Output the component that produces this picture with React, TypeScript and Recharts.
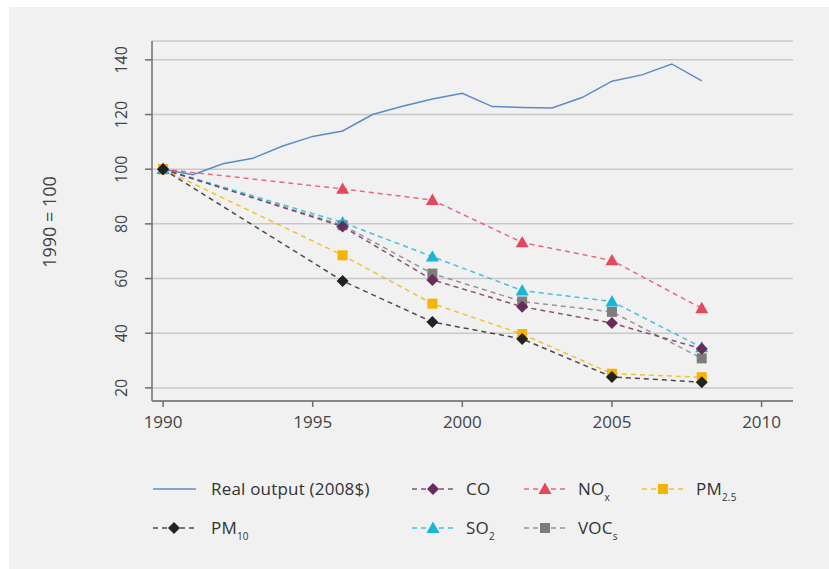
import React from "react";
import {
  LineChart,
  Line,
  XAxis,
  YAxis,
  CartesianGrid,
} from "recharts";

// annual real output index
const outputYears = [
  1990, 1991, 1992, 1993, 1994, 1995, 1996, 1997, 1998, 1999, 2000, 2001,
  2002, 2003, 2004, 2005, 2006, 2007, 2008,
];
const realOutput = [
  100, 98, 102, 104, 108.5, 112, 114, 120, 123, 125.7, 127.8, 122.9, 122.6,
  122.4, 126.2, 132.2, 134.5, 138.5, 132.3,
];

// emissions, measured every three years
const emissionYears = [1990, 1996, 1999, 2002, 2005, 2008];
const co = [100, 79, 59.5, 49.7, 43.7, 34.3];
const nox = [100, 92.8, 88.7, 73.2, 66.6, 49.1];
const pm25 = [100, 68.5, 50.8, 39.7, 25.2, 23.9];
const pm10 = [100, 59.1, 44.1, 37.9, 24, 22.1];
const so2 = [100, 80.5, 68, 55.6, 51.6, 34.8];
const vocs = [100, 79.5, 61.8, 51.6, 47.8, 30.8];

const xTicks = [1990, 1995, 2000, 2005, 2010];
const yTicks = [20, 40, 60, 80, 100, 120, 140];

const FONT = "'Open Sans', sans-serif";

const COLORS = {
  output: "#5b8cc4",
  co: "#6a2a5a",
  nox: "#e5475f",
  pm25: "#f4b400",
  pm10: "#222222",
  so2: "#19b6d8",
  vocs: "#7d7d7d",
};

const rows = outputYears.map((year, i) => {
  const row: Record<string, number | undefined> = { year, output: realOutput[i] };
  return row;
});
emissionYears.forEach((year, i) => {
  const row = rows.find((r) => r.year === year)!;
  row.co = co[i];
  row.nox = nox[i];
  row.pm25 = pm25[i];
  row.pm10 = pm10[i];
  row.so2 = so2[i];
  row.vocs = vocs[i];
});

type Shape = "diamond" | "triangle" | "square";

const Marker = ({ shape, cx, cy, color }: { shape: Shape; cx: number; cy: number; color: string }) => {
  if (shape === "diamond") {
    const r = 6;
    return (
      <polygon
        points={`${cx},${cy - r} ${cx + r},${cy} ${cx},${cy + r} ${cx - r},${cy}`}
        fill={color}
      />
    );
  }
  if (shape === "triangle") {
    const r = 6.5;
    return (
      <polygon
        points={`${cx},${cy - r} ${cx + r},${cy + r * 0.75} ${cx - r},${cy + r * 0.75}`}
        fill={color}
      />
    );
  }
  return <rect x={cx - 5} y={cy - 5} width={10} height={10} fill={color} />;
};

const makeDot = (shape: Shape, color: string) => (props: any) => {
  const { cx, cy, index } = props;
  if (cx == null || cy == null || props.value == null) return <g key={index} />;
  return (
    <g key={index}>
      <Marker shape={shape} cx={cx} cy={cy} color={color} />
    </g>
  );
};

const YTick = (props: any) => {
  const { x, y, payload } = props;
  const cx = x - 22;
  return (
    <text
      x={cx}
      y={y}
      dy="0.35em"
      textAnchor="middle"
      transform={`rotate(-90, ${cx}, ${y})`}
      fill="#444"
      fontSize={16}
      fontFamily={FONT}
    >
      {payload.value}
    </text>
  );
};

const series = [
  { key: "vocs", shape: "square" as Shape, color: COLORS.vocs },
  { key: "nox", shape: "triangle" as Shape, color: COLORS.nox },
  { key: "pm25", shape: "square" as Shape, color: COLORS.pm25 },
  { key: "so2", shape: "triangle" as Shape, color: COLORS.so2 },
  { key: "co", shape: "diamond" as Shape, color: COLORS.co },
  { key: "pm10", shape: "diamond" as Shape, color: COLORS.pm10 },
];

const legendItems: {
  key: string;
  base: string;
  sub?: string;
  color: string;
  shape?: Shape;
  x: number;
  textX: number;
  y: number;
}[] = [
  { key: "output", base: "Real output (2008$)", color: COLORS.output, x: 153, textX: 211, y: 489 },
  { key: "co", base: "CO", color: COLORS.co, shape: "diamond", x: 412, textX: 466, y: 489 },
  { key: "nox", base: "NO", sub: "x", color: COLORS.nox, shape: "triangle", x: 524, textX: 578, y: 489 },
  { key: "pm25", base: "PM", sub: "2.5", color: COLORS.pm25, shape: "square", x: 642, textX: 696, y: 489 },
  { key: "pm10", base: "PM", sub: "10", color: COLORS.pm10, shape: "diamond", x: 153, textX: 211, y: 528 },
  { key: "so2", base: "SO", sub: "2", color: COLORS.so2, shape: "triangle", x: 412, textX: 466, y: 528 },
  { key: "vocs", base: "VOC", sub: "s", color: COLORS.vocs, shape: "square", x: 524, textX: 578, y: 528 },
];

const ChartLegend = () => (
  <svg width={829} height={569} style={{ position: "absolute", left: 0, top: 0, pointerEvents: "none" }}>
    {legendItems.map((it) => (
      <g key={it.key}>
        {it.shape ? (
          <>
            <line
              x1={it.x}
              x2={it.x + 43}
              y1={it.y}
              y2={it.y}
              stroke={it.color}
              strokeWidth={1.5}
              strokeDasharray="5 4"
              strokeOpacity={0.8}
            />
            <Marker shape={it.shape} cx={it.x + 21} cy={it.y} color={it.color} />
          </>
        ) : (
          <line x1={it.x} x2={it.x + 43} y1={it.y} y2={it.y} stroke={it.color} strokeWidth={1.5} />
        )}
        <text x={it.textX} y={it.y} dy="0.35em" fill="#333" fontSize={17} fontFamily={FONT} letterSpacing={0.2}>
          {it.base}
          {it.sub && (
            <tspan fontSize={10} dy="0.6em">
              {it.sub}
            </tspan>
          )}
        </text>
      </g>
    ))}
  </svg>
);

export default function App() {
  return (
    <div style={{ position: "absolute", left: 0, top: 0, width: 829, height: 569, background: "#fff" }}>
      <div style={{ position: "absolute", left: 9, top: 7, right: 0, bottom: 0, background: "#f1f1f1" }} />
      <div style={{ position: "absolute", left: 0, top: 0 }}>
        <LineChart
          width={829}
          height={569}
          data={rows}
          margin={{ top: 41, right: 36, left: 92, bottom: 138 }}
        >
          <CartesianGrid horizontal vertical={false} stroke="#c9c9c9" strokeWidth={1.5} />
          <XAxis
            dataKey="year"
            type="number"
            domain={[1989.63, 2011.05]}
            ticks={xTicks}
            height={30}
            tickSize={6}
            tickMargin={9}
            stroke="#6e6e6e"
            strokeWidth={1.5}
            tick={{ fill: "#444", fontSize: 17, fontFamily: FONT }}
            allowDataOverflow
          />
          <YAxis
            type="number"
            domain={[15.2, 146.9]}
            ticks={yTicks}
            width={60}
            tickSize={7}
            stroke="#6e6e6e"
            strokeWidth={1.5}
            tick={<YTick />}
            allowDataOverflow
          />
          <Line
            dataKey="output"
            type="linear"
            stroke={COLORS.output}
            strokeWidth={1.5}
            dot={false}
            isAnimationActive={false}
          />
          {series.map((s) => (
            <Line
              key={s.key}
              dataKey={s.key}
              type="linear"
              stroke={s.color}
              strokeOpacity={0.8}
              strokeWidth={1.5}
              strokeDasharray="5 4"
              connectNulls
              dot={makeDot(s.shape, s.color)}
              activeDot={false}
              isAnimationActive={false}
            />
          ))}
          <text
            x={50}
            y={222}
            dy="0.35em"
            textAnchor="middle"
            transform="rotate(-90, 50, 222)"
            fill="#444"
            fontSize={18}
            fontFamily={FONT}
          >
            1990 = 100
          </text>
        </LineChart>
      </div>
      <ChartLegend />
    </div>
  );
}
